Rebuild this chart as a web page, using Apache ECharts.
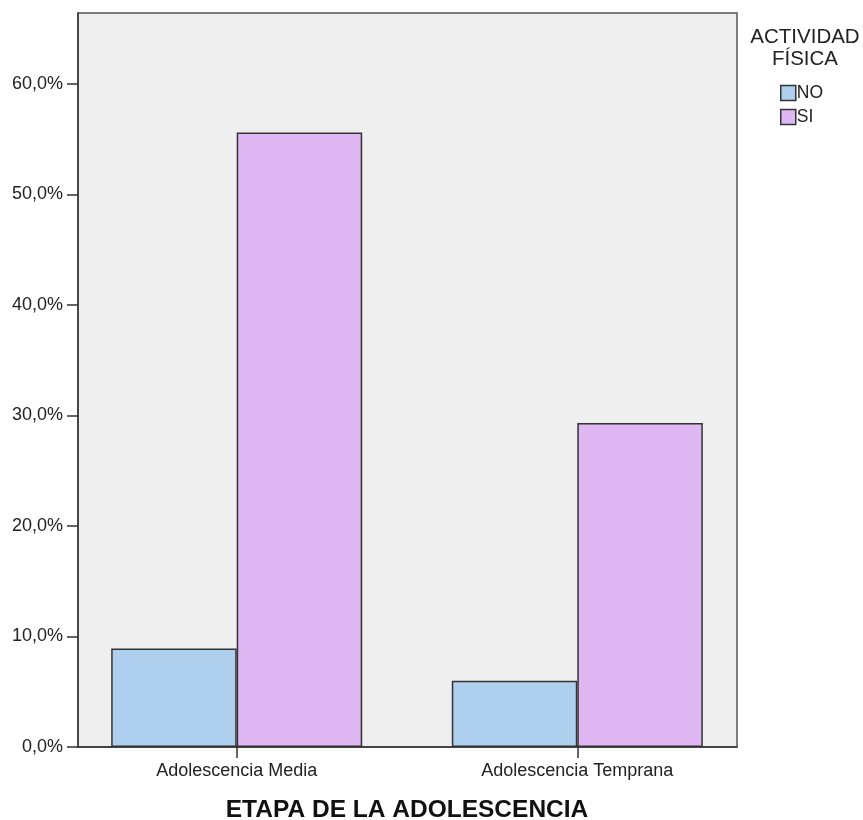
<!DOCTYPE html>
<html>
<head>
<meta charset="utf-8">
<script src="https://cdn.jsdelivr.net/npm/echarts@6/dist/echarts.min.js"></script>
<style>
  html, body { margin: 0; padding: 0; background: #ffffff; }
  #chart { width: 863px; height: 820px; }
</style>
</head>
<body>
<div id="chart"></div>
<script>
const categories = ['Adolescencia Media', 'Adolescencia Temprana'];
const seriesNames = ['NO', 'SI'];
const valuesNO = [8.9, 6.0];
const valuesSI = [55.6, 29.3];
const yTicks = [0, 10, 20, 30, 40, 50, 60];
const yMax = 66.4;
const xTitle = 'ETAPA DE LA ADOLESCENCIA';
const legendTitle = 'ACTIVIDAD\nFÍSICA';

const FONT = '"Liberation Sans", Arial, sans-serif';
const chart = echarts.init(document.getElementById('chart'), null, { renderer: 'canvas' });

const fmt = v => v.toFixed(1).replace('.', ',') + '%';
const AXIS_COLOR = '#333';

chart.setOption({
  animation: false,
  backgroundColor: '#ffffff',
  textStyle: { fontFamily: FONT },
  title: {
    text: legendTitle,
    left: 800,
    top: 21,
    textAlign: 'center',
    textStyle: { fontFamily: FONT, fontSize: 20.5, fontWeight: 'normal', color: '#222', lineHeight: 22, align: 'center' }
  },
  legend: {
    orient: 'vertical',
    left: 780,
    top: 84,
    itemWidth: 15,
    itemHeight: 15,
    itemGap: 6,
    icon: 'rect',
    padding: 0,
    itemStyle: { borderColor: '#333', borderWidth: 1.5 },
    textStyle: { fontFamily: FONT, fontSize: 17.5, color: '#222', padding: [0, 0, 0, -4] },
    data: seriesNames
  },
  grid: [
    {
      left: 78, right: 126, top: 13, bottom: 73,
      outerBoundsMode: 'none',
      show: true,
      backgroundColor: '#efefef',
      borderColor: '#555',
      borderWidth: 1.5
    },
    {
      left: 66.4, right: 115.4, top: 13, bottom: 73,
      outerBoundsMode: 'none',
      show: false
    }
  ],
  xAxis: [
    {
      gridIndex: 0,
      type: 'category',
      data: categories,
      axisLine: { show: true, lineStyle: { color: AXIS_COLOR, width: 1.5 } },
      axisTick: { show: false },
      axisLabel: { show: false },
      splitLine: { show: false }
    },
    {
      gridIndex: 1,
      type: 'category',
      data: categories,
      name: xTitle,
      nameLocation: 'middle',
      nameGap: 51,
      nameTextStyle: { fontFamily: FONT, fontSize: 24.5, fontWeight: 'bold', color: '#111' },
      axisLine: { show: false },
      axisTick: { show: true, alignWithLabel: true, length: 11, lineStyle: { color: AXIS_COLOR, width: 1.5 } },
      axisLabel: { fontFamily: FONT, fontSize: 18, color: '#222', margin: 15 },
      splitLine: { show: false }
    }
  ],
  yAxis: [
    {
      gridIndex: 0,
      type: 'value',
      min: 0,
      max: yMax,
      interval: 10,
      axisLine: { show: true, lineStyle: { color: AXIS_COLOR, width: 1.5 } },
      axisTick: { show: true, length: 11, customValues: yTicks, lineStyle: { color: AXIS_COLOR, width: 1.5 } },
      axisLabel: { fontFamily: FONT, fontSize: 18, color: '#222', margin: 15, customValues: yTicks, formatter: fmt },
      splitLine: { show: false }
    },
    {
      gridIndex: 1,
      type: 'value',
      min: 0,
      max: yMax,
      interval: 10,
      show: false,
      splitLine: { show: false }
    }
  ],
  series: [
    {
      name: seriesNames[0],
      type: 'bar',
      xAxisIndex: 1,
      yAxisIndex: 1,
      data: valuesNO,
      barGap: '0%',
      barCategoryGap: '26.3%',
      itemStyle: { color: '#aecfee', borderColor: '#333', borderWidth: 1.5 }
    },
    {
      name: seriesNames[1],
      type: 'bar',
      xAxisIndex: 1,
      yAxisIndex: 1,
      data: valuesSI,
      barGap: '0%',
      barCategoryGap: '26.3%',
      itemStyle: { color: '#dfb7f2', borderColor: '#333', borderWidth: 1.5 }
    }
  ]
});
</script>
</body>
</html>
